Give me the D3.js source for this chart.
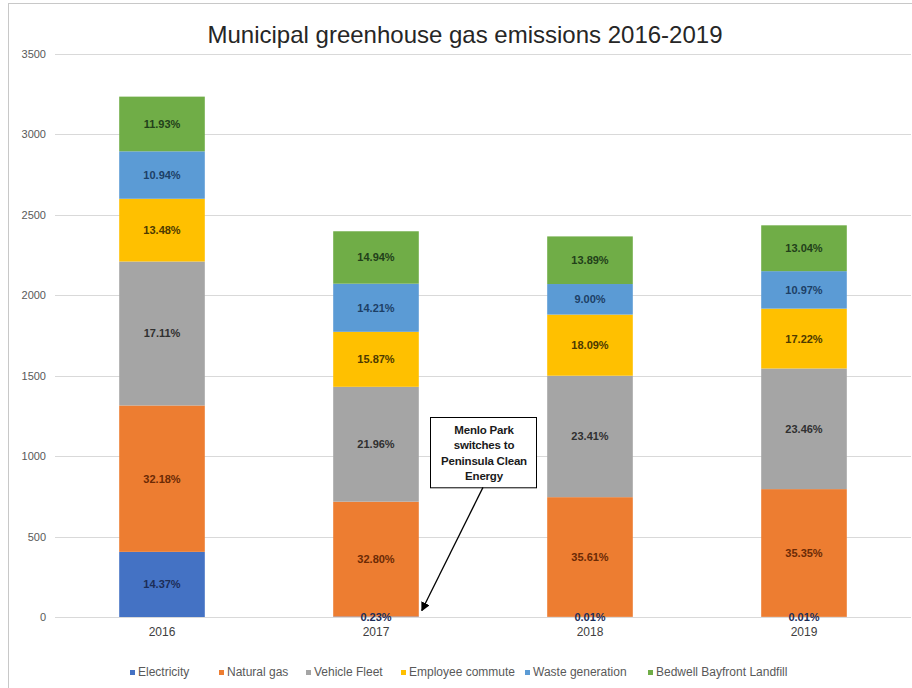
<!DOCTYPE html>
<html>
<head>
<meta charset="utf-8">
<script src="https://cdn.jsdelivr.net/npm/d3@7"></script>
<style>
  html, body { margin: 0; padding: 0; background: #fff; }
  svg { display: block; font-family: "Liberation Sans", Arial, sans-serif; }
</style>
</head>
<body>
<svg id="chart" width="912" height="688"></svg>
<script>
// Emissions by source and year (MT CO2e)
const years = ["2016", "2017", "2018", "2019"];
const seriesNames = ["Electricity", "Natural gas", "Vehicle Fleet", "Employee commute", "Waste generation", "Bedwell Bayfront Landfill"];
const electricity      = [405, 3, 1, 1];
const naturalGas       = [910, 714, 744, 794];
const vehicleFleet     = [895, 714, 755, 750];
const employeeCommute  = [390, 342, 380, 372];
const wasteGeneration  = [295, 299, 190, 233];
const bedwellLandfill  = [340, 326, 296, 285];

// Share-of-year labels printed on each segment
const electricityPct = ["14.37%", "0.23%", "0.01%", "0.01%"];
const naturalGasPct  = ["32.18%", "32.80%", "35.61%", "35.35%"];
const vehiclePct     = ["17.11%", "21.96%", "23.41%", "23.46%"];
const commutePct     = ["13.48%", "15.87%", "18.09%", "17.22%"];
const wastePct       = ["10.94%", "14.21%", "9.00%", "10.97%"];
const landfillPct    = ["11.93%", "14.94%", "13.89%", "13.04%"];

const yTicks = [0, 500, 1000, 1500, 2000, 2500, 3000, 3500];

const seriesValues = [electricity, naturalGas, vehicleFleet, employeeCommute, wasteGeneration, bedwellLandfill];
const seriesLabels = [electricityPct, naturalGasPct, vehiclePct, commutePct, wastePct, landfillPct];
const colors = ["#4472C4", "#ED7D31", "#A5A5A5", "#FFC000", "#5B9BD5", "#70AD47"];
const labelColors = ["#1c2d57", "#6b2a05", "#303030", "#4d3a00", "#1d3f66", "#22401a"];

const table = years.map((yr, i) => {
  const row = { year: yr };
  seriesNames.forEach((s, k) => { row[s] = seriesValues[k][i]; });
  return row;
});

const svg = d3.select("#chart");
const W = 912, H = 688;
const plot = { left: 55, right: 911, top: 54, bottom: 617 };

// chart frame
svg.append("rect").attr("x", 8.5).attr("y", 3.5).attr("width", W + 10).attr("height", H + 10)
  .attr("fill", "none").attr("stroke", "#c8c8c8");

const x = d3.scaleBand().domain(years).range([plot.left, plot.right]).paddingInner(0.6).paddingOuter(0.3);
const y = d3.scaleLinear().domain([0, 3500]).range([plot.bottom, plot.top]);

// title
svg.append("text").attr("x", 465).attr("y", 43).attr("text-anchor", "middle")
  .attr("font-size", 24).attr("fill", "#262626")
  .text("Municipal greenhouse gas emissions 2016-2019");

// gridlines + y axis labels
const yAxis = d3.axisLeft(y).tickValues(yTicks).tickSize(0).tickPadding(9).tickFormat(d3.format("d"));
const gy = svg.append("g").attr("transform", `translate(${plot.left},0)`).call(yAxis);
gy.select(".domain").remove();
gy.selectAll("text").attr("font-size", 11).attr("fill", "#595959").attr("font-family", "Liberation Sans, Arial, sans-serif");

svg.append("g").selectAll("line").data(yTicks.filter(d => d > 0)).join("line")
  .attr("x1", plot.left).attr("x2", plot.right)
  .attr("y1", d => Math.round(y(d)) + 0.5).attr("y2", d => Math.round(y(d)) + 0.5)
  .attr("stroke", "#d9d9d9").attr("stroke-width", 1);

// stacked bars
const stack = d3.stack().keys(seriesNames)(table);

const layers = svg.append("g").selectAll("g").data(stack).join("g")
  .attr("fill", (d, k) => colors[k]);
layers.selectAll("rect").data(d => d).join("rect")
  .attr("x", d => x(d.data.year))
  .attr("width", x.bandwidth())
  .attr("y", d => y(d[1]))
  .attr("height", d => y(d[0]) - y(d[1]));

// baseline
svg.append("line").attr("x1", plot.left).attr("x2", plot.right)
  .attr("y1", plot.bottom + 0.5).attr("y2", plot.bottom + 0.5)
  .attr("stroke", "#d9d9d9");

// segment labels
const labelG = svg.append("g");
stack.forEach((layer, k) => {
  labelG.selectAll(null).data(layer).join("text")
    .attr("x", d => x(d.data.year) + x.bandwidth() / 2)
    .attr("y", d => (y(d[0]) + y(d[1])) / 2 + 4)
    .attr("text-anchor", "middle")
    .attr("font-size", 11).attr("font-weight", "bold")
    .attr("fill", labelColors[k])
    .text((d, i) => seriesLabels[k][i]);
});

// x axis labels
const xAxis = d3.axisBottom(x).tickSize(0).tickPadding(10);
const gx = svg.append("g").attr("transform", `translate(0,${plot.bottom})`).call(xAxis);
gx.select(".domain").remove();
gx.selectAll("text").attr("font-size", 12).attr("fill", "#404040").attr("font-family", "Liberation Sans, Arial, sans-serif");

// callout: Menlo Park switches to Peninsula Clean Energy
const calloutX = x("2018") - (x.step() - x.bandwidth()) / 2;
const boxW = 106;
const boxTop = y(1243), boxBottom = y(806);
svg.append("rect").attr("x", calloutX - boxW / 2 + 0.5).attr("y", Math.round(boxTop) + 0.5)
  .attr("width", boxW).attr("height", boxBottom - boxTop)
  .attr("fill", "#fff").attr("stroke", "#000").attr("stroke-width", 1);
const calloutLines = ["Menlo Park", "switches to", "Peninsula Clean", "Energy"];
svg.append("g").selectAll("text").data(calloutLines).join("text")
  .attr("x", calloutX + 1).attr("y", (d, i) => boxTop + 17 + i * 15.3)
  .attr("text-anchor", "middle").attr("font-size", 11.5).attr("font-weight", "bold").attr("fill", "#1a1a1a")
  .attr("letter-spacing", -0.2)
  .text(d => d);

svg.append("defs").append("marker").attr("id", "arrow")
  .attr("viewBox", "0 0 10 10").attr("refX", 9).attr("refY", 5)
  .attr("markerWidth", 7).attr("markerHeight", 7).attr("orient", "auto")
  .append("path").attr("d", "M0,0 L10,5 L0,10 Z").attr("fill", "#000");
const tipX = x("2017") + x.bandwidth() + 3;
svg.append("line")
  .attr("x1", calloutX).attr("y1", boxBottom)
  .attr("x2", tipX).attr("y2", y(40))
  .attr("stroke", "#000").attr("stroke-width", 1.3).attr("marker-end", "url(#arrow)");

// legend
const legendX = [130, 219, 306, 401, 525, 648];
const lg = svg.append("g").selectAll("g").data(seriesNames).join("g")
  .attr("transform", (d, i) => `translate(${legendX[i]},676)`);
lg.append("rect").attr("x", 0).attr("y", -6).attr("width", 5).attr("height", 5).attr("fill", (d, i) => colors[i]);
lg.append("text").attr("x", 8).attr("y", 0).attr("font-size", 12).attr("fill", "#595959").text(d => d);
</script>
</body>
</html>
